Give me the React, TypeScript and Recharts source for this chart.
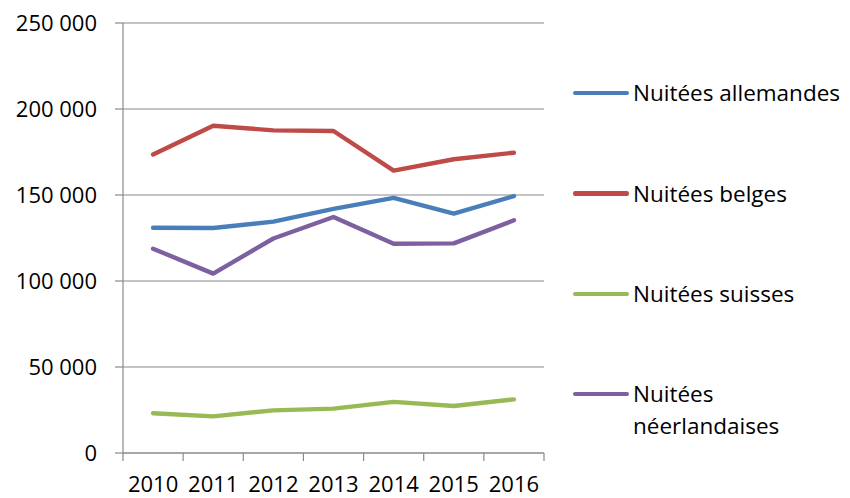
import React from 'react';
import { LineChart, Line, XAxis, YAxis, CartesianGrid } from 'recharts';

const categories = ['2010', '2011', '2012', '2013', '2014', '2015', '2016'];
const allemandes = [131000, 130800, 134500, 141900, 148300, 139200, 149400];
const belges = [173500, 190300, 187600, 187200, 164200, 170800, 174600];
const suisses = [23100, 21300, 24800, 25800, 29700, 27300, 31200];
const neerlandaises = [118800, 104300, 124700, 137200, 121700, 121900, 135300];
const yTicks = [0, 50000, 100000, 150000, 200000, 250000];

const series = [
  { key: 'allemandes', name: 'Nuitées allemandes', color: '#4A7EBB', values: allemandes },
  { key: 'belges', name: 'Nuitées belges', color: '#BE4B48', values: belges },
  { key: 'suisses', name: 'Nuitées suisses', color: '#98B954', values: suisses },
  { key: 'neerlandaises', name: 'Nuitées néerlandaises', color: '#7D60A0', values: neerlandaises },
];

const data = categories.map((year, i) => {
  const row: Record<string, string | number> = { year };
  series.forEach((s) => {
    row[s.key] = s.values[i];
  });
  return row;
});

const fmt = (v: number) => String(v).replace(/\B(?=(\d{3})+(?!\d))/g, ' ');

const FONT = '"Open Sans", sans-serif';
const GRAY = '#8A8A8A';
const TICK_LEN = 8;
const LABEL_GAP = 23;

const XTick = (props: any) => {
  const { x, y, payload, index, visibleTicksCount } = props;
  const off = payload?.offset ?? 0;
  const isLast = index === (visibleTicksCount ?? categories.length) - 1;
  return (
    <g>
      <line x1={x - off} x2={x - off} y1={y} y2={y + TICK_LEN} stroke={GRAY} strokeWidth={1.2} />
      {isLast && <line x1={x + off} x2={x + off} y1={y} y2={y + TICK_LEN} stroke={GRAY} strokeWidth={1.2} />}
      <text x={x} y={y + LABEL_GAP} dy="0.71em" textAnchor="middle" fill="#000" fontSize={22} fontFamily={FONT}>
        {payload.value}
      </text>
    </g>
  );
};

export default function App() {
  return (
    <div style={{ position: 'absolute', left: 0, top: 0, width: 850, height: 498, background: '#fff', fontFamily: FONT }}>
      <LineChart width={850} height={498} data={data} margin={{ top: 23, right: 306, bottom: 0, left: 0 }}>
        <CartesianGrid vertical={false} stroke={GRAY} strokeWidth={1.2} />
        <XAxis
          dataKey="year"
          scale="band"
          height={45}
          axisLine={{ stroke: GRAY, strokeWidth: 1.2 }}
          tickLine={false}
          tickSize={0}
          tickMargin={0}
          tick={<XTick />}
          interval={0}
        />
        <YAxis
          width={123}
          domain={[0, 250000]}
          ticks={yTicks}
          tickFormatter={fmt}
          axisLine={{ stroke: GRAY, strokeWidth: 1.2 }}
          tickLine={{ stroke: GRAY, strokeWidth: 1.2 }}
          tickSize={8}
          tickMargin={18}
          tick={{ fill: '#000', fontSize: 22, fontFamily: FONT }}
          interval={0}
        />
        {series.map((s) => (
          <Line
            key={s.key}
            type="linear"
            dataKey={s.key}
            name={s.name}
            stroke={s.color}
            strokeWidth={4.4}
            strokeLinecap="round"
            strokeLinejoin="round"
            dot={false}
            activeDot={false}
            isAnimationActive={false}
          />
        ))}
      </LineChart>
      <div style={{ position: 'absolute', left: 573, top: 77.3, width: 277 }}>
        {series.map((s) => (
          <div key={s.key} style={{ display: 'flex', alignItems: 'flex-start', height: 100.3 }}>
            <div style={{ width: 56, height: 4.4, borderRadius: 2.2, background: s.color, marginTop: 13.8, flex: 'none' }} />
            <div style={{ marginLeft: 4, width: 214, lineHeight: '32px', fontSize: 22.5, color: '#000' }}>{s.name}</div>
          </div>
        ))}
      </div>
    </div>
  );
}
